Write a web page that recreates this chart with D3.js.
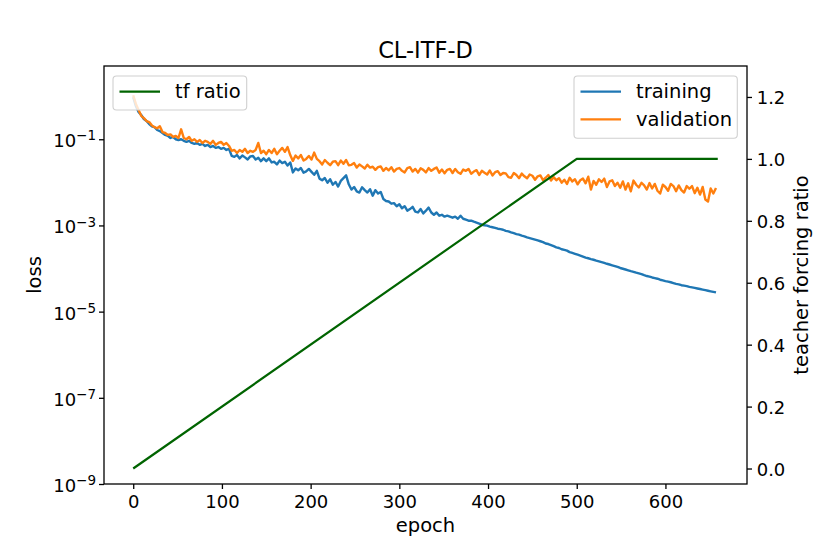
<!DOCTYPE html>
<html>
<head>
<meta charset="utf-8">
<script src="https://cdn.jsdelivr.net/npm/d3@7"></script>
<style>
  html, body { margin: 0; padding: 0; background: #fff; }
  svg { display: block; font-family: "DejaVu Sans", sans-serif; }
</style>
</head>
<body>
<svg id="chart" width="830" height="554"></svg>
<script>
// ---------------- data ----------------
const title = "CL-ITF-D";
const epochs = d3.range(0, 660, 3);
const training = [
  0.95, 0.59, 0.43, 0.365, 0.295, 0.265, 0.225, 0.20, 0.19, 0.164,
  0.155, 0.14, 0.126, 0.12, 0.107, 0.113, 0.10, 0.096, 0.10, 0.092,
  0.087, 0.092, 0.082, 0.078, 0.082, 0.074, 0.078, 0.070, 0.074, 0.066,
  0.070, 0.063, 0.066, 0.060, 0.063, 0.0565, 0.060, 0.041, 0.039, 0.043,
  0.036, 0.042, 0.038, 0.034, 0.040, 0.041, 0.034, 0.037, 0.031, 0.036,
  0.031, 0.036, 0.029, 0.030, 0.026, 0.032, 0.028, 0.030, 0.0245, 0.029,
  0.017, 0.021, 0.019, 0.0215, 0.0168, 0.018, 0.0205, 0.0175, 0.015, 0.0185,
  0.0122, 0.0112, 0.0126, 0.0098, 0.0118, 0.0088, 0.0102, 0.008, 0.0108, 0.0125,
  0.0145, 0.009, 0.0068, 0.0078, 0.0062, 0.0058, 0.0077, 0.0066, 0.0058, 0.0069,
  0.0049, 0.0066, 0.0055, 0.006, 0.0041, 0.0037, 0.0036, 0.0032, 0.0033, 0.0028,
  0.0031, 0.0025, 0.0028, 0.0022, 0.0024, 0.0027, 0.0021, 0.0020, 0.0024, 0.0019,
  0.0022, 0.0026, 0.0020, 0.00177, 0.0020, 0.00168, 0.00177, 0.0016, 0.00168, 0.0016,
  0.00151, 0.0016, 0.00143, 0.00168, 0.00143, 0.00136, 0.00129, 0.00129, 0.00122, 0.00116,
  0.0011, 0.00104, 0.00101, 0.00099, 0.00094, 0.00091, 0.00088, 0.00084, 0.00082, 0.000795,
  0.00075, 0.00073, 0.00069, 0.00066, 0.00063, 0.00061, 0.00058, 0.00056, 0.00053, 0.00051,
  0.00049, 0.00047, 0.00045, 0.00043, 0.00041, 0.00038, 0.00037, 0.00035, 0.00033, 0.00031,
  0.00030, 0.00028, 0.00027, 0.00026, 0.00024, 0.00023, 0.00022, 0.00021, 0.00020, 0.00019,
  0.00018, 0.000173, 0.000166, 0.00016, 0.000153, 0.000147, 0.000141, 0.000135, 0.000129, 0.000124,
  0.000119, 0.000114, 0.000109, 0.000103, 9.9e-5, 9.5e-5, 9.1e-5, 8.7e-5, 8.4e-5, 8.0e-5,
  7.7e-5, 7.4e-5, 7.0e-5, 6.7e-5, 6.5e-5, 6.2e-5, 6.0e-5, 5.8e-5, 5.5e-5, 5.3e-5,
  5.1e-5, 4.95e-5, 4.8e-5, 4.6e-5, 4.4e-5, 4.3e-5, 4.1e-5, 4.0e-5, 3.9e-5, 3.75e-5,
  3.65e-5, 3.55e-5, 3.45e-5, 3.35e-5, 3.25e-5, 3.15e-5, 3.05e-5, 2.96e-5, 2.88e-5, 2.8e-5
];
const validation = [
  1.05, 0.66, 0.48, 0.35, 0.31, 0.265, 0.25, 0.21, 0.19, 0.18,
  0.20, 0.147, 0.14, 0.126, 0.13, 0.113, 0.12, 0.107, 0.17, 0.107,
  0.10, 0.113, 0.092, 0.10, 0.087, 0.096, 0.082, 0.092, 0.087, 0.078,
  0.092, 0.074, 0.082, 0.087, 0.074, 0.082, 0.070, 0.054, 0.0565, 0.048,
  0.0565, 0.051, 0.060, 0.048, 0.054, 0.051, 0.0565, 0.082, 0.048, 0.054,
  0.045, 0.0565, 0.048, 0.060, 0.045, 0.054, 0.063, 0.051, 0.066, 0.043,
  0.0315, 0.042, 0.036, 0.043, 0.032, 0.035, 0.041, 0.034, 0.049, 0.035,
  0.031, 0.026, 0.033, 0.0285, 0.025, 0.030, 0.031, 0.025, 0.032, 0.027,
  0.033, 0.025, 0.0255, 0.028, 0.022, 0.026, 0.0235, 0.021, 0.0255, 0.022,
  0.023, 0.0195, 0.0225, 0.0235, 0.0185, 0.0215, 0.019, 0.0225, 0.0178, 0.0205,
  0.0215, 0.0185, 0.017, 0.0215, 0.0225, 0.0178, 0.0205, 0.0168, 0.0212, 0.0195,
  0.017, 0.0215, 0.0185, 0.0205, 0.0222, 0.0168, 0.0198, 0.0162, 0.0195, 0.0205,
  0.0165, 0.0205, 0.0172, 0.0158, 0.0198, 0.0185, 0.0205, 0.0158, 0.0178, 0.0192,
  0.0148, 0.0185, 0.0168, 0.0152, 0.0188, 0.0145, 0.0172, 0.0182, 0.0148, 0.0165,
  0.0162, 0.0132, 0.0128, 0.0165, 0.0148, 0.0125, 0.016, 0.0138, 0.0124, 0.0152,
  0.0142, 0.0115, 0.0138, 0.0145, 0.0112, 0.0128, 0.0148, 0.011, 0.0132, 0.0112,
  0.0125, 0.0098, 0.0115, 0.0092, 0.0128, 0.0105, 0.0118, 0.009, 0.0112, 0.0122,
  0.0095, 0.0135, 0.0068, 0.0108, 0.0088, 0.0118, 0.0102, 0.0122, 0.0078, 0.0105,
  0.0112, 0.0082, 0.0098, 0.0075, 0.0105, 0.0068, 0.0095, 0.0062, 0.011, 0.0088,
  0.0076, 0.0098, 0.0085, 0.0068, 0.0096, 0.0072, 0.0092, 0.0064, 0.0055, 0.0088,
  0.0078, 0.0064, 0.0092, 0.0082, 0.0062, 0.0085, 0.0066, 0.0058, 0.0082, 0.0071,
  0.0082, 0.0056, 0.0075, 0.0052, 0.0078, 0.0040, 0.0036, 0.0072, 0.0055, 0.0074
];
const tfEpochs = [0, 500, 659];
const tfRatio = [0, 1, 1];
const xTicks = [0, 100, 200, 300, 400, 500, 600];
const lossTicks = [1e-9, 1e-7, 1e-5, 1e-3, 1e-1];
const lossTickExp = ["\u22129", "\u22127", "\u22125", "\u22123", "\u22121"];
const tfTicks = [0.0, 0.2, 0.4, 0.6, 0.8, 1.0, 1.2];

// ---------------- layout ----------------
const L = 104, R = 747, T = 66, B = 484;
const cTrain = "#1f77b4", cVal = "#ff7f0e", cTf = "#006400";

const svg = d3.select("#chart");
const x = d3.scaleLinear().domain([-32.95, 691.95]).range([L, R]);
const yL = d3.scaleLog().domain([1e-9, Math.pow(10, 0.7)]).range([B, T]);
const yR = d3.scaleLinear().domain([-0.05, 1.3]).range([B, T]);

const plot = svg.append("g");
const lineL = d3.line().x(d => x(d[0])).y(d => yL(d[1]));
const lineR = d3.line().x(d => x(d[0])).y(d => yR(d[1]));

plot.append("path").datum(epochs.map((e, i) => [e, training[i]]))
  .attr("d", lineL).attr("fill", "none").attr("stroke", cTrain)
  .attr("stroke-width", 2.4).attr("stroke-linejoin", "round");
plot.append("path").datum(epochs.map((e, i) => [e, validation[i]]))
  .attr("d", lineL).attr("fill", "none").attr("stroke", cVal)
  .attr("stroke-width", 2.4).attr("stroke-linejoin", "round");
plot.append("path").datum(tfEpochs.map((e, i) => [e, tfRatio[i]]))
  .attr("d", lineR).attr("fill", "none").attr("stroke", cTf)
  .attr("stroke-width", 2.2).attr("stroke-linejoin", "round");

// axes
function styleAxis(g) {
  g.select(".domain").remove();
  g.selectAll(".tick line").attr("stroke", "#000").attr("stroke-width", 1.3);
  g.selectAll(".tick text").attr("fill", "#000").attr("font-size", 18)
    .attr("font-family", "DejaVu Sans, sans-serif");
}
const gx = svg.append("g").attr("transform", `translate(0,${B})`)
  .call(d3.axisBottom(x).tickValues(xTicks).tickSize(5).tickPadding(6).tickFormat(d3.format("d")));
styleAxis(gx);

const gyL = svg.append("g").attr("transform", `translate(${L},0)`)
  .call(d3.axisLeft(yL).tickValues(lossTicks).tickSize(5).tickPadding(3).tickFormat(() => ""));
styleAxis(gyL);
gyL.selectAll(".tick text").each(function(d, i) {
  const t = d3.select(this).attr("dy", "0.41em");
  t.text(null);
  t.append("tspan").text("10");
  t.append("tspan").attr("dy", "-0.5em").attr("font-size", 13.5).text(lossTickExp[i]);
});

const gyR = svg.append("g").attr("transform", `translate(${R},0)`)
  .call(d3.axisRight(yR).tickValues(tfTicks).tickSize(5).tickPadding(4.7).tickFormat(d3.format(".1f")));
styleAxis(gyR);
gyR.selectAll(".tick text").attr("dy", "0.37em");

// spines
svg.append("rect").attr("x", L).attr("y", T).attr("width", R - L).attr("height", B - T)
  .attr("fill", "none").attr("stroke", "#000").attr("stroke-width", 1.3);

// labels
svg.append("text").attr("x", (L + R) / 2).attr("y", 58.3).attr("text-anchor", "middle")
  .attr("font-size", 22.5).text(title);
svg.append("text").attr("x", (L + R) / 2).attr("y", 531.5).attr("text-anchor", "middle")
  .attr("font-size", 19.5).text("epoch");
svg.append("text").attr("transform", `translate(41,${(T + B) / 2}) rotate(-90)`)
  .attr("text-anchor", "middle").attr("font-size", 19.5).text("loss");
svg.append("text").attr("transform", `translate(808,${(T + B) / 2}) rotate(-90)`)
  .attr("text-anchor", "middle").attr("font-size", 19.5).text("teacher forcing ratio");

// legends
function legend(x0, y0, w, h, items) {
  const g = svg.append("g");
  g.append("rect").attr("x", x0).attr("y", y0).attr("width", w).attr("height", h)
    .attr("rx", 3.5).attr("fill", "#fff").attr("fill-opacity", 0.8)
    .attr("stroke", "#d0d0d0").attr("stroke-width", 1.1);
  items.forEach((it, i) => {
    const cy = y0 + 15.7 + i * 27.6;
    g.append("line").attr("x1", x0 + 6.5).attr("x2", x0 + 47).attr("y1", cy).attr("y2", cy)
      .attr("stroke", it.c).attr("stroke-width", 2.3);
    g.append("text").attr("x", x0 + 62).attr("y", cy + 6.7).attr("font-size", 19.5).text(it.t);
  });
}
legend(574, 76, 163.3, 62.3, [{t: "training", c: cTrain}, {t: "validation", c: cVal}]);
legend(113, 76, 133.7, 34, [{t: "tf ratio", c: cTf}]);
</script>
</body>
</html>
